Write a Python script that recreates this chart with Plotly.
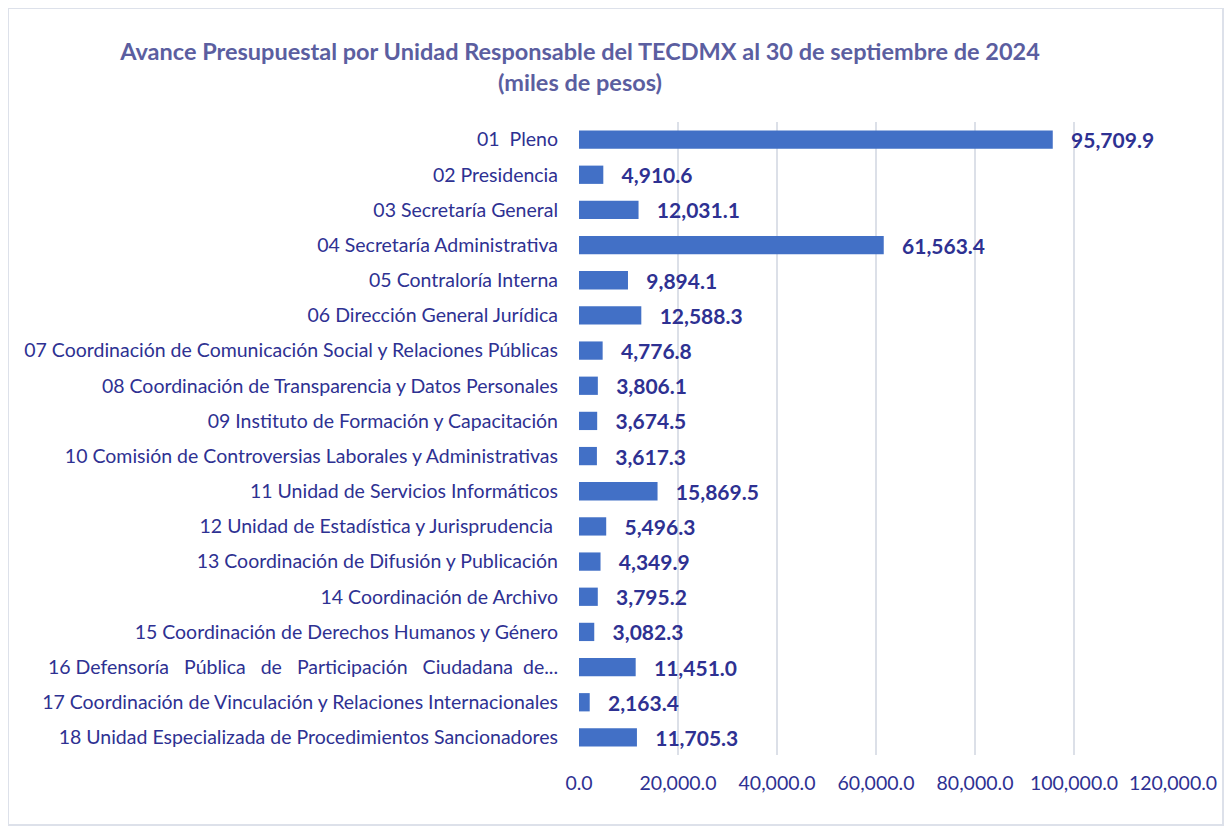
import plotly.graph_objects as go

NB = "\u00a0"
categories = [
    "01  Pleno",
    "02 Presidencia",
    "03 Secretaría General",
    "04 Secretaría Administrativa",
    "05 Contraloría Interna",
    "06 Dirección General Jurídica",
    "07 Coordinación de Comunicación Social y Relaciones Públicas",
    "08 Coordinación de Transparencia y Datos Personales",
    "09 Instituto de Formación y Capacitación",
    "10 Comisión de Controversias Laborales y Administrativas",
    "11 Unidad de Servicios Informáticos",
    "12 Unidad de Estadística y Jurisprudencia ",
    "13 Coordinación de Difusión y Publicación",
    "14 Coordinación de Archivo",
    "15 Coordinación de Derechos Humanos y Género",
    "16 Defensoría" + NB * 3 + "Pública" + NB * 3 + "de" + NB * 3 + "Participación" + NB * 3 + "Ciudadana" + NB * 2 + "de...",
    "17 Coordinación de Vinculación y Relaciones Internacionales",
    "18 Unidad Especializada de Procedimientos Sancionadores",
]
values = [95709.9, 4910.6, 12031.1, 61563.4, 9894.1, 12588.3, 4776.8, 3806.1,
          3674.5, 3617.3, 15869.5, 5496.3, 4349.9, 3795.2, 3082.3, 11451.0,
          2163.4, 11705.3]
tick_vals = [0, 20000, 40000, 60000, 80000, 100000, 120000]
tick_text = ["0.0", "20,000.0", "40,000.0", "60,000.0", "80,000.0", "100,000.0", "120,000.0"]

TXT = "#2E3192"
FONT = "Lato, 'Open Sans', sans-serif"

# page has an 8px body margin; figure is laid out relative to it
W, H = 1216, 818
OFF = 8

fig = go.Figure(go.Bar(
    y=categories, x=values, orientation="h",
    marker=dict(color="#4270C6", line=dict(width=0)),
    width=0.52,
    text=[NB * 3 + f"{v:,.1f}" for v in values],
    textposition="outside",
    constraintext="none",
    cliponaxis=False,
    textfont=dict(family=FONT, size=21, color=TXT, weight="bold"),
))

pl, pr, pt, pb = 579, 1173, 122, 755
fig.update_layout(
    width=W, height=H,
    paper_bgcolor="white", plot_bgcolor="white",
    margin=dict(l=pl - OFF, r=OFF + W - pr, t=pt - OFF, b=OFF + H - pb, autoexpand=False),
    showlegend=False,
    title=dict(
        text="Avance Presupuestal por Unidad Responsable del TECDMX al 30 de septiembre de 2024<br>(miles de pesos)",
        x=(580 - OFF) / W, xanchor="center", y=1 - (60 - OFF) / H, yanchor="middle",
        font=dict(family=FONT, size=23.5, color="#5B5EA0", weight="bold"),
    ),
    xaxis=dict(
        range=[0, 120000], tickvals=tick_vals, ticktext=tick_text,
        showgrid=True, gridcolor="#DCE0E8", gridwidth=2,
        zeroline=False, showline=False, ticks="",
        tickfont=dict(family=FONT, size=19.5, color=TXT),
        ticklabelstandoff=14,
    ),
    yaxis=dict(
        autorange="reversed", showgrid=False, zeroline=False, showline=False,
        ticks="", tickfont=dict(family=FONT, size=19.5, color=TXT),
        ticklabelstandoff=20,
    ),
    shapes=[dict(type="rect", xref="paper", yref="paper",
                 x0=-(pl - OFF) / (pr - pl), x1=1 + (OFF + W - pr - 1) / (pr - pl),
                 y0=-(OFF + H - pb - 1) / (pb - pt), y1=1 + (pt - OFF) / (pb - pt),
                 line=dict(color="#DDE1EA", width=2), fillcolor="rgba(0,0,0,0)")],
)

fig.write_html("out.html")
